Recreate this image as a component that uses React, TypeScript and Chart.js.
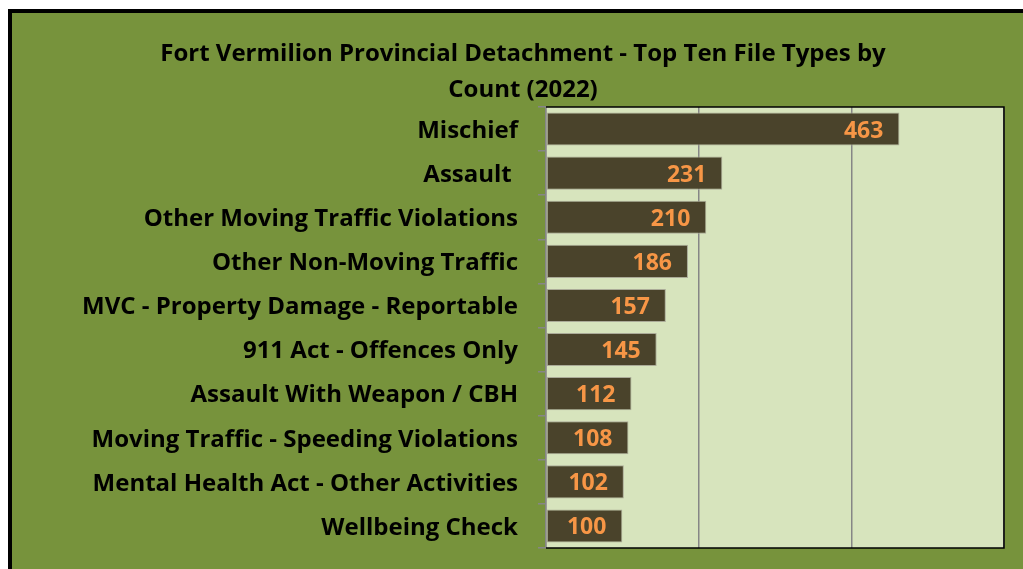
import React, { useEffect, useRef } from "react";
import { Chart, registerables } from "chart.js";

Chart.register(...registerables);

const titleLines = [
  "Fort Vermilion Provincial Detachment - Top Ten File Types by",
  "Count (2022)",
];
const categories = [
  "Mischief",
  "Assault ",
  "Other Moving Traffic Violations",
  "Other Non-Moving Traffic",
  "MVC - Property Damage - Reportable",
  "911 Act - Offences Only",
  "Assault With Weapon / CBH",
  "Moving Traffic - Speeding Violations",
  "Mental Health Act - Other Activities",
  "Wellbeing Check",
];
const counts = [463, 231, 210, 186, 157, 145, 112, 108, 102, 100];
const axisMin = 0;
const axisMax = 600;
const axisStep = 200;

const FONT = "'Open Sans', sans-serif";

const plotBg = {
  id: "plotBg",
  beforeDraw(chart: any) {
    const { ctx, chartArea: a } = chart;
    ctx.save();
    ctx.fillStyle = "#D7E4BD";
    ctx.fillRect(a.left, a.top, a.right - a.left, a.bottom - a.top);
    ctx.restore();
  },
};

const plotBorder = {
  id: "plotBorder",
  afterDraw(chart: any) {
    const { ctx, chartArea: a } = chart;
    ctx.save();
    ctx.strokeStyle = "#000000";
    ctx.lineWidth = 1.5;
    ctx.beginPath();
    ctx.moveTo(a.left, a.top);
    ctx.lineTo(a.right, a.top);
    ctx.lineTo(a.right, a.bottom);
    ctx.lineTo(a.left, a.bottom);
    ctx.stroke();
    ctx.restore();
  },
};

const valueLabels = {
  id: "valueLabels",
  afterDatasetsDraw(chart: any) {
    const { ctx } = chart;
    const meta = chart.getDatasetMeta(0);
    ctx.save();
    ctx.font = `bold 23px ${FONT}`;
    ctx.fillStyle = "#F79646";
    ctx.textAlign = "right";
    ctx.textBaseline = "middle";
    meta.data.forEach((bar: any, i: number) => {
      ctx.fillText(String(counts[i]), bar.x - 16, bar.y + 2);
    });
    ctx.restore();
  },
};

export default function App() {
  const ref = useRef<HTMLCanvasElement | null>(null);

  useEffect(() => {
    if (!ref.current) return;
    const chart = new Chart(ref.current, {
      type: "bar",
      data: {
        labels: categories,
        datasets: [
          {
            data: counts,
            backgroundColor: "#4A432B",
            borderColor: "#ABAB98",
            borderWidth: 1,
            borderSkipped: false,
            categoryPercentage: 0.75,
            barPercentage: 1,
          },
        ],
      },
      options: {
        indexAxis: "y",
        responsive: false,
        animation: false,
        devicePixelRatio: 1,
        layout: { padding: { top: 19, left: 30, right: 19, bottom: 21 } },
        plugins: {
          legend: { display: false },
          tooltip: { enabled: false },
          title: {
            display: true,
            text: titleLines,
            color: "#000000",
            font: { family: FONT, size: 24, weight: "bold", lineHeight: "36px" },
            padding: { top: 4, bottom: -1 },
          },
        },
        scales: {
          x: {
            min: axisMin,
            max: axisMax,
            ticks: { display: false, stepSize: axisStep },
            grid: {
              color: "#868686",
              lineWidth: 1.5,
              drawTicks: false,
            },
            border: { display: false },
          },
          y: {
            grid: {
              offset: true,
              drawOnChartArea: false,
              drawTicks: true,
              tickLength: 8,
              color: "#868686",
              lineWidth: 1.5,
            },
            border: { display: true, color: "#868686", width: 1.5 },
            ticks: {
              autoSkip: false,
              color: "#000000",
              padding: 20,
              labelOffset: 2,
              font: { family: FONT, size: 24, weight: "bold" },
            },
            afterFit(scale: any) {
              scale.width = 504;
              scale.paddingTop = 0;
              scale.paddingBottom = 0;
            },
          },
        },
      },
      plugins: [plotBg, valueLabels, plotBorder],
    });
    return () => chart.destroy();
  }, []);

  return (
    <div
      style={{
        position: "fixed",
        left: 0,
        top: 0,
        width: "100vw",
        height: "100vh",
        overflow: "hidden",
        background: "#ffffff",
      }}
    >
      <div
        style={{
          position: "absolute",
          left: 8,
          top: 9,
          width: 1100,
          height: 700,
          borderLeft: "4px solid #000",
          borderTop: "4px solid #000",
          background: "#77933C",
        }}
      >
        <canvas ref={ref} width={1011} height={556} style={{ display: "block" }} />
      </div>
    </div>
  );
}
